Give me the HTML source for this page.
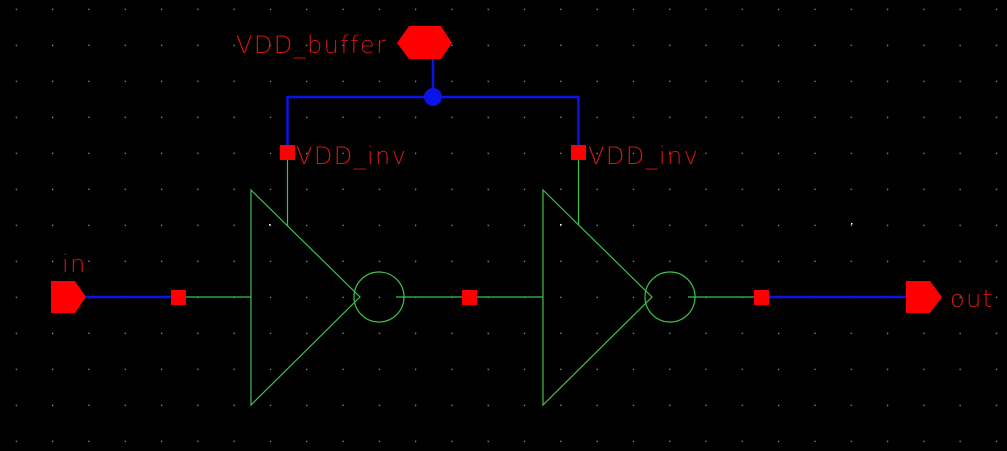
<!DOCTYPE html>
<html><head><style>
html,body{margin:0;padding:0;background:#000;width:1007px;height:451px;overflow:hidden}
svg{display:block}
text{font-family:"DejaVu Sans","Liberation Sans",sans-serif;fill:#d81414;font-size:24px;letter-spacing:1.4px;font-weight:300}
</style></head><body>
<svg width="1007" height="451" xmlns="http://www.w3.org/2000/svg">
<defs>
<pattern id="g" x="15.7" y="8.7" width="36.3" height="36" patternUnits="userSpaceOnUse">
<rect x="0" y="0" width="1.3" height="1.3" fill="#999"/>
</pattern>
</defs>
<rect width="1007" height="451" fill="url(#g)"/>
<g stroke="#3ec24a" stroke-width="1.2" fill="none">
<polygon points="251,190 251,405 360,297"/>
<circle cx="379" cy="297" r="25"/>
<line x1="396" y1="297" x2="469" y2="297"/>
<line x1="178" y1="297" x2="251" y2="297"/>
<line x1="287.5" y1="160" x2="287.5" y2="226"/>
<polygon points="543,190 543,405 652,297"/>
<circle cx="670" cy="297" r="25"/>
<line x1="688" y1="297" x2="761" y2="297"/>
<line x1="469" y1="297" x2="543" y2="297"/>
<line x1="578.5" y1="160" x2="578.5" y2="225"/>
</g>
<g stroke="#0a14e6" stroke-width="2.5" fill="none">
<line x1="86" y1="297" x2="178" y2="297"/>
<line x1="761" y1="297" x2="906" y2="297"/>
<polyline points="287.5,153 287.5,97 578.5,97 578.5,153"/>
<line x1="433" y1="59" x2="433" y2="97"/>
</g>
<circle cx="433" cy="97" r="9" fill="#0a14e6"/>
<g fill="#ff0000">
<polygon points="51,281 75,281 86,297 75,313 51,313"/>
<polygon points="906,281 930,281 942,297 930,313 906,313"/>
<polygon points="397,43 409,26 441,26 452,43 441,59 409,59"/>
<rect x="171" y="290" width="15" height="15"/>
<rect x="462" y="290" width="15" height="15"/>
<rect x="754" y="290" width="15" height="15"/>
<rect x="280" y="145" width="15" height="15"/>
<rect x="571" y="145" width="15" height="15"/>
</g>
<g fill="#fff">
<rect x="269" y="224" width="1.5" height="1.5"/>
<rect x="560" y="224" width="1.5" height="1.5"/>
<rect x="851" y="223" width="1.5" height="1.5"/>
</g>
<text x="236" y="53">VDD_buffer</text>
<text x="296" y="164">VDD_inv</text>
<text x="588" y="164">VDD_inv</text>
<text x="62" y="272">in</text>
<text x="950" y="307">out</text>
</svg>
</body></html>
